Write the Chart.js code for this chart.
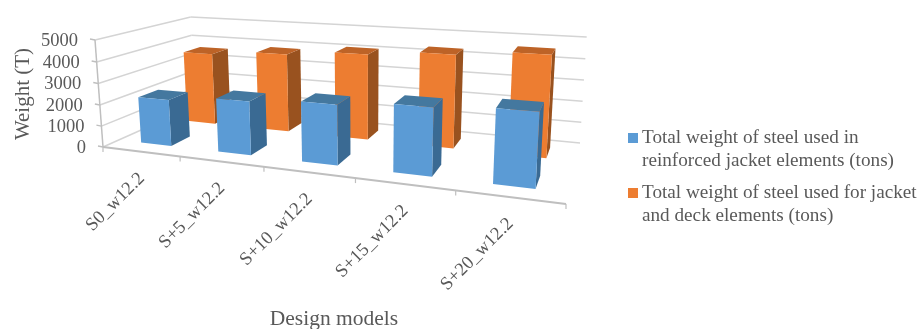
<!DOCTYPE html>
<html>
<head>
<meta charset="utf-8">
<style>
  html, body { margin: 0; padding: 0; background: #fff; }
  #box { width: 920px; height: 329px; }
</style>
<script src="https://cdn.jsdelivr.net/npm/chart.js@4/dist/chart.umd.min.js"></script>
</head>
<body>
<div id="box"><canvas id="myChart" width="920" height="329"></canvas></div>
<script>
const categories = ['S0_w12.2', 'S+5_w12.2', 'S+10_w12.2', 'S+15_w12.2', 'S+20_w12.2']
const reinforcedJacket = [2190, 2470, 2670, 2915, 3100]
const jacketAndDeck = [3615, 3850, 4100, 4350, 4600]
const reinforcedLegend = ['Total weight of steel used in', 'reinforced jacket elements (tons)']
const deckLegend = ['Total weight of steel used for jacket', 'and deck elements (tons)']
const yTitle = 'Weight (T)'
const xTitle = 'Design models'

const FONT = '"Liberation Serif", serif'
const TEXT = '#595959'
const GRID = '#d4d4d4'
const AXIS = '#bfbfbf'

// floor corners on screen (front-left, front-right, back-left, back-right),
// where the value axis ends, and how much the walls lean outwards going up
const project = camera([103, 147], [566, 204], [195, 106], [580, 143], [95, 40], -0.03)

const faces = [
    { front: '#5b9bd5', side: '#3a6a93', top: '#44789f', depth: [0.15, 0.35] },
    { front: '#ed7d31', side: '#99521f', top: '#bd6327', depth: [0.65, 0.85] }
]

function camera(o, x, z, d, up, lean) {
    // perspective map of the unit cube, solved from the floor quad
    const ax = x[0] - o[0], ay = x[1] - o[1]
    const bx = z[0] - o[0], by = z[1] - o[1]
    const cx = d[0] - o[0], cy = d[1] - o[1]
    const det = ax * by - bx * ay
    const l1 = (cx * by - bx * cy) / det
    const l2 = (ax * cy - cx * ay) / det
    const s = -1 / (1 - l1 - l2)
    const wx = l1 * s, wz = l2 * s, wy = 1 + lean
    return (u, v, t) => {
        const w = 1 + u * (wx - 1) + v * lean + t * (wz - 1)
        return [0, 1].map(k =>
            (o[k] + u * (wx * x[k] - o[k]) + v * (wy * up[k] - o[k]) + t * (wz * z[k] - o[k])) / w
        )
    }
}

function decimal(scale, value) {
    return scale.getDecimalForPixel(scale.getPixelForValue(value))
}

function line(ctx, p, q, color, width) {
    ctx.strokeStyle = color
    ctx.lineWidth = width
    ctx.beginPath()
    ctx.moveTo(p[0], p[1])
    ctx.lineTo(q[0], q[1])
    ctx.stroke()
}

function poly(ctx, pts, color) {
    ctx.fillStyle = color
    ctx.beginPath()
    pts.forEach((p, i) => i ? ctx.lineTo(p[0], p[1]) : ctx.moveTo(p[0], p[1]))
    ctx.closePath()
    ctx.fill()
}

function text(ctx, str, x, y, size, align, angle) {
    ctx.save()
    ctx.translate(x, y)
    ctx.rotate(angle || 0)
    ctx.font = size + 'px ' + FONT
    ctx.fillStyle = TEXT
    ctx.textAlign = align
    ctx.textBaseline = 'middle'
    ctx.fillText(str, 0, 0)
    ctx.restore()
}

const box3d = {
    id: 'box3d',
    beforeDatasetsDraw(chart) {
        const ctx = chart.ctx
        const y = chart.scales.y, x = chart.scales.x

        // walls and value axis
        y.ticks.forEach(tick => {
            const v = decimal(y, tick.value)
            const front = project(0, v, 0)
            const corner = project(0, v, 1)
            line(ctx, front, corner, GRID, 1.5)
            line(ctx, corner, project(1, v, 1), GRID, 1.5)
            line(ctx, [front[0] - 5, front[1] - 1], front, AXIS, 1.5)
            text(ctx, String(tick.value), front[0] - 17, front[1] + 1, 18.5, 'right')
        })
        line(ctx, project(0, 0, 0), project(0, 1, 0), AXIS, 1.5)

        // front edge of the floor with its tick marks
        line(ctx, project(0, 0, 0), project(1, 0, 0), AXIS, 1.8)
        for (let i = 0; i <= categories.length; i++) {
            const p = project(i / categories.length, 0, 0)
            line(ctx, p, [p[0], p[1] + 5], AXIS, 1.2)
        }
        categories.forEach((name, i) => {
            const p = project(decimal(x, i), 0, 0)
            text(ctx, name, p[0] + 1, p[1] + 24, 18.5, 'right', -Math.PI / 4)
        })

        text(ctx, yTitle, 23, 94, 21, 'center', -Math.PI / 2)
        text(ctx, xTitle, 334, 319, 21.5, 'center')

        // legend
        const legend = [[reinforcedLegend, 133], [deckLegend, 188]]
        legend.forEach((item, i) => {
            ctx.fillStyle = faces[i].front
            ctx.fillRect(628, item[1], 10, 10)
            item[0].forEach((str, k) => {
                text(ctx, str, 642, item[1] + 5 + k * 22.5, 19.2, 'left')
            })
        })
    },
    beforeDatasetDraw(chart, args) {
        // the bars are drawn as boxes instead of flat rectangles
        const ctx = chart.ctx
        const x = chart.scales.x, y = chart.scales.y
        const face = faces[args.index]
        const t0 = face.depth[0], t1 = face.depth[1]
        args.meta.data.forEach(bar => {
            const half = bar.width / 2
            const u0 = x.getDecimalForPixel(bar.x - half)
            const u1 = x.getDecimalForPixel(bar.x + half)
            const v = y.getDecimalForPixel(bar.y)
            poly(ctx, [project(u1, 0, t0), project(u1, 0, t1), project(u1, v, t1), project(u1, v, t0)], face.side)
            poly(ctx, [project(u0, v, t0), project(u1, v, t0), project(u1, v, t1), project(u0, v, t1)], face.top)
            poly(ctx, [project(u0, 0, t0), project(u1, 0, t0), project(u1, v, t0), project(u0, v, t0)], face.front)
        })
        return false
    }
}

new Chart(document.getElementById('myChart'), {
    type: 'bar',
    data: {
        labels: categories,
        datasets: [
            { label: reinforcedLegend.join(' '), data: reinforcedJacket, grouped: false, categoryPercentage: 1, barPercentage: 0.4 },
            { label: deckLegend.join(' '), data: jacketAndDeck, grouped: false, categoryPercentage: 1, barPercentage: 0.4 }
        ]
    },
    options: {
        responsive: false,
        animation: false,
        plugins: { legend: { display: false }, tooltip: { enabled: false } },
        scales: {
            x: { display: false },
            y: { display: false, min: 0, max: 5000, ticks: { stepSize: 1000 } }
        }
    },
    plugins: [box3d]
})
</script>
</body>
</html>
